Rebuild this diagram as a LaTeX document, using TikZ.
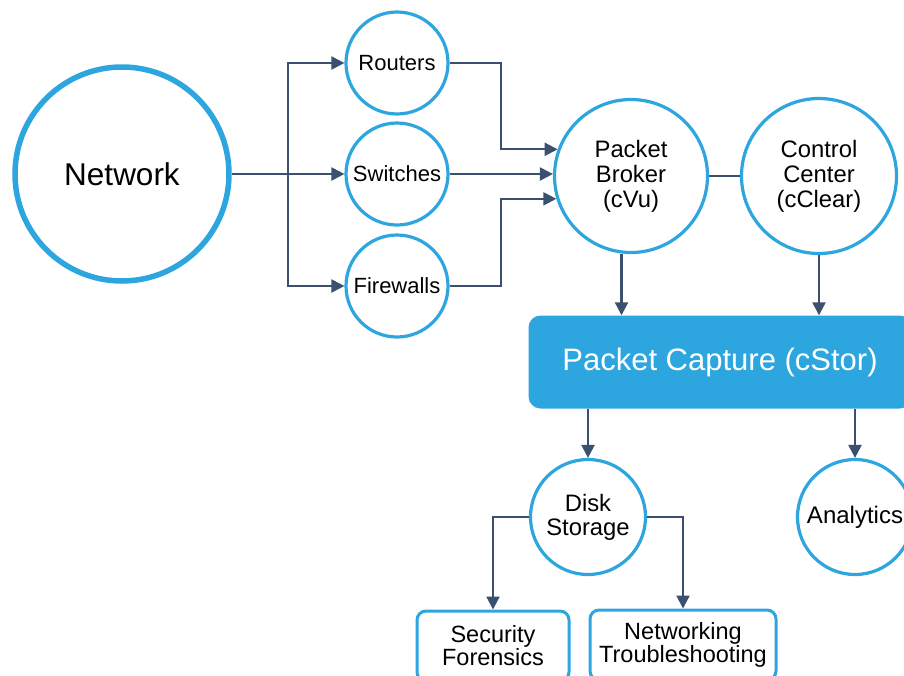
\documentclass[tikz,border=0pt]{standalone}
\usepackage{fontspec}
\setmainfont{Liberation Sans}
\usetikzlibrary{arrows.meta}
\definecolor{capblue}{HTML}{2DA6DF}
\definecolor{linkgray}{HTML}{3B4F6E}

\begin{document}
\begin{tikzpicture}[x=1pt,y=-1pt,
    bubble/.style={circle,draw=capblue,line width=3.2pt,fill=white,inner sep=0pt,align=center,
        font=\fontsize{24}{26}\selectfont},
    tag/.style={rectangle,rounded corners=9pt,draw=capblue,line width=3pt,fill=white,inner sep=0pt,
        align=center,minimum height=70pt,font=\fontsize{23.5}{23}\selectfont},
    link/.style={draw=linkgray,line width=2.2pt},
    arr/.style={link,-{Triangle[length=13pt,width=13pt]}}]
    \useasboundingbox (0,0) rectangle (904,675);
    \clip (0,0) rectangle (904,675);
    % sources
    \node[bubble,line width=5.5pt,minimum size=214pt,font=\fontsize{31.5}{34}\selectfont] (net) at (122,174) {Network};
    \node[bubble,minimum size=102pt,font=\fontsize{22}{24}\selectfont] (rout) at (397,63) {Routers};
    \node[bubble,minimum size=102pt,font=\fontsize{22}{24}\selectfont] (swit) at (397,174) {Switches};
    \node[bubble,minimum size=102pt,font=\fontsize{22}{24}\selectfont] (fire) at (397,286) {Firewalls};
    % broker and control
    \node[bubble,minimum size=153pt,font=\fontsize{23.8}{25}\selectfont] (brok) at (631,176) {Packet\\Broker\\(cVu)};
    \node[bubble,minimum size=155pt,font=\fontsize{23.8}{25}\selectfont] (ctrl) at (819,176) {Control\\Center\\(cClear)};
    % capture
    \node[rectangle,rounded corners=12pt,fill=capblue,text=white,minimum width=383pt,minimum height=93pt,
        font=\fontsize{31}{33}\selectfont] (cap) at (720,362) {\raisebox{-4pt}{Packet Capture (cStor)}};
    % outputs
    \node[bubble,minimum size=115pt,font=\fontsize{23.8}{24}\selectfont] (disk) at (588,517) {Disk\\Storage};
    \node[bubble,minimum size=115pt] (anal) at (855,517) {Analytics};
    \node[tag,minimum width=152pt] (secf) at (493,646) {Security\\Forensics};
    \node[tag,minimum width=186pt] (netw) at (683,645) {Networking\\Troubleshooting};

    \coordinate (split) at (288,174);
    \coordinate (drop) at (621.5,300);
    \draw[arr] (net.east) -- (swit.west);
    \draw[arr] (split) |- (rout.west);
    \draw[arr] (split) |- (fire.west);
    \draw[arr] (rout.east) -- ++(51,0) |- (brok.160);
    \draw[arr] (swit.east) -- (swit.east -| brok.west);
    \draw[arr] (fire.east) -- ++(51,0) |- (brok.197);
    \draw[link] (brok.east) -- (ctrl.west);
    \draw[arr] (drop |- brok.263) -- (drop |- cap.north);
    \draw[arr] (ctrl.south) -- (ctrl.south |- cap.north);
    \draw[arr] (cap.south -| disk.north) -- (disk.north);
    \draw[arr] (cap.south -| anal.north) -- (anal.north);
    \draw[arr] (disk.west) -| (secf.north);
    \draw[arr] (disk.east) -| (netw.north);
\end{tikzpicture}
\end{document}
